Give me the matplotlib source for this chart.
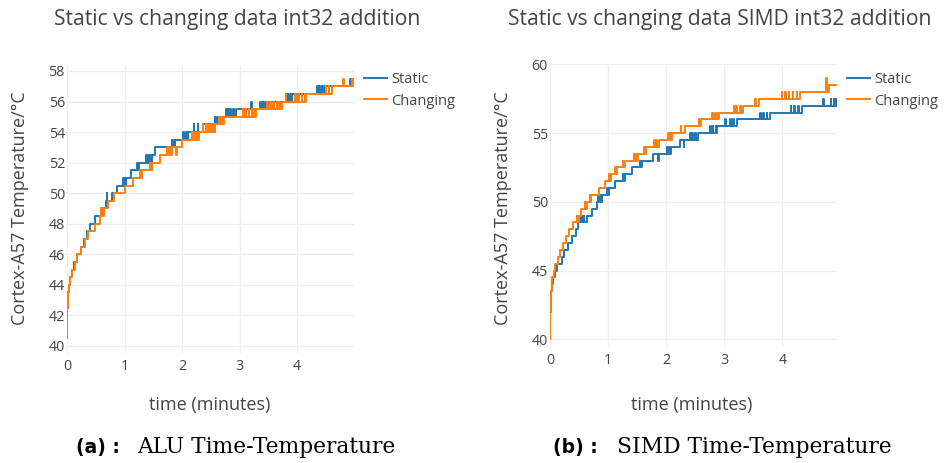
import matplotlib
matplotlib.use("Agg")
import matplotlib.pyplot as plt

# ---------------- data (time in minutes, temperature in degC) ----------------
alu_static_time = [0, 0.003, 0.006, 0.01, 0.02, 0.035, 0.055, 0.085, 0.13, 0.18,
                   0.24, 0.29, 0.34, 0.405, 0.49, 0.59, 0.68, 0.69, 0.70, 0.78,
                   0.87, 0.98, 0.99, 1.0, 1.02, 1.03, 1.12, 1.22, 1.23, 1.25,
                   1.38, 1.39, 1.42, 1.43, 1.46, 1.47, 1.48, 1.53, 1.82, 1.83,
                   1.86, 1.87, 1.88, 2.02, 2.03, 2.07, 2.08, 2.10, 2.20, 2.21,
                   2.27, 2.28, 2.36, 2.57, 2.58, 2.61, 2.62, 2.65, 2.66, 2.68,
                   2.77, 2.78, 2.80, 2.81, 2.84, 2.85, 2.89, 2.90, 2.93, 3.20,
                   3.21, 3.36, 3.37, 3.40, 3.41, 3.45, 3.46, 3.49, 3.84, 3.85,
                   3.88, 3.89, 3.92, 4.35, 4.36, 4.39, 4.40, 4.43, 4.44, 4.47,
                   4.48, 4.50, 4.92, 4.93, 4.95, 4.96, 4.98, 4.99]
alu_static_temp = [40.5, 41.5, 42.5, 43, 43.5, 44, 44.5, 45, 45.5, 46,
                   46.5, 47, 47.5, 48, 48.5, 49, 49.5, 50, 49.5, 50,
                   50.5, 51, 50.5, 51, 50.5, 51, 51.5, 52, 51.5, 52,
                   52.5, 52, 52.5, 52, 52.5, 52, 52.5, 53, 53.5, 53,
                   53.5, 53, 53.5, 54, 53.5, 54, 53.5, 54, 54.5, 54,
                   54.5, 54, 54.5, 55, 54.5, 55, 54.5, 55, 54.5, 55,
                   55.5, 55, 55.5, 55, 55.5, 55, 55.5, 55, 55.5, 56,
                   55.5, 56, 55.5, 56, 55.5, 56, 55.5, 56, 56.5, 56,
                   56.5, 56, 56.5, 57, 56.5, 57, 56.5, 57, 56.5, 57,
                   56.5, 57, 57.5, 57, 57.5, 57, 57.5, 57.5]

alu_changing_time = [0, 0.003, 0.006, 0.012, 0.022, 0.04, 0.06, 0.095, 0.14, 0.17,
                     0.25, 0.31, 0.37, 0.48, 0.57, 0.59, 0.60, 0.62, 0.63, 0.64,
                     0.72, 0.82, 1.0, 1.15, 1.27, 1.28, 1.30, 1.45, 1.46, 1.48,
                     1.62, 1.74, 1.75, 1.78, 1.79, 1.83, 1.90, 1.91, 2.0, 2.17,
                     2.18, 2.21, 2.22, 2.26, 2.27, 2.29, 2.36, 2.37, 2.41, 2.42,
                     2.46, 2.47, 2.51, 2.52, 2.56, 2.57, 2.58, 2.65, 2.66, 2.69,
                     2.70, 2.73, 3.06, 3.07, 3.11, 3.12, 3.16, 3.17, 3.21, 3.22,
                     3.26, 3.27, 3.28, 3.48, 3.49, 3.53, 3.54, 3.59, 3.60, 3.65,
                     3.66, 3.70, 3.71, 3.73, 3.80, 3.81, 3.97, 3.98, 4.02, 4.03,
                     4.08, 4.09, 4.13, 4.14, 4.15, 4.50, 4.51, 4.55, 4.56, 4.60,
                     4.80, 4.81, 4.95, 4.96, 4.98, 4.99]
alu_changing_temp = [40.5, 41.5, 42.5, 43, 43.5, 44, 44.5, 45, 45.5, 46,
                     46.5, 47, 47.5, 48, 48.5, 49, 48.5, 49, 48.5, 49,
                     49.5, 50, 50.5, 51, 51.5, 51, 51.5, 52, 51.5, 52,
                     52.5, 53, 52.5, 53, 52.5, 53, 52.5, 53, 53.5, 54,
                     53.5, 54, 53.5, 54, 53.5, 54, 54.5, 54, 54.5, 54,
                     54.5, 54, 54.5, 54, 54.5, 54, 54.5, 55, 54.5, 55,
                     54.5, 55, 55.5, 55, 55.5, 55, 55.5, 55, 55.5, 55,
                     55.5, 55, 55.5, 56, 55.5, 56, 55.5, 56, 55.5, 56,
                     55.5, 56, 55.5, 56, 56.5, 56, 56.5, 56, 56.5, 56,
                     56.5, 56, 56.5, 56, 56.5, 57, 56.5, 57, 56.5, 57,
                     57.5, 57, 57.5, 57, 57.5, 57.5]

simd_static_time = [0, 0.003, 0.006, 0.01, 0.02, 0.03, 0.05, 0.08, 0.126, 0.20,
                    0.247, 0.316, 0.374, 0.443, 0.489, 0.51, 0.52, 0.55, 0.56, 0.58,
                    0.59, 0.632, 0.718, 0.805, 0.82, 0.83, 0.86, 0.87, 0.89, 0.98,
                    0.99, 1.01, 1.12, 1.26, 1.27, 1.29, 1.41, 1.55, 1.56, 1.59,
                    1.78, 1.86, 1.87, 2.01, 2.02, 2.05, 2.06, 2.09, 2.24, 2.30,
                    2.31, 2.41, 2.42, 2.45, 2.46, 2.50, 2.51, 2.55, 2.76, 2.77,
                    2.80, 2.81, 2.85, 2.86, 2.88, 3.02, 3.03, 3.10, 3.11, 3.15,
                    3.16, 3.22, 3.62, 3.63, 3.67, 3.68, 3.73, 3.74, 3.79, 4.14,
                    4.15, 4.20, 4.21, 4.27, 4.28, 4.34, 4.70, 4.71, 4.83, 4.84,
                    4.88, 4.89, 4.92, 4.93, 4.94]
simd_static_temp = [40, 41, 42, 43, 43.5, 44, 44.5, 45, 45.5, 46,
                    46.5, 47, 47.5, 48, 48.5, 49, 48.5, 49, 48.5, 49,
                    48.5, 49, 49.5, 50, 50.5, 50, 50.5, 50, 50.5, 51,
                    50.5, 51, 51.5, 52, 51.5, 52, 52.5, 53, 52.5, 53,
                    53.5, 53, 53.5, 54, 53.5, 54, 53.5, 54, 54.5, 54,
                    54.5, 55, 54.5, 55, 54.5, 55, 54.5, 55, 55.5, 55,
                    55.5, 55, 55.5, 55, 55.5, 56, 55.5, 56, 55.5, 56,
                    55.5, 56, 56.5, 56, 56.5, 56, 56.5, 56, 56.5, 57,
                    56.5, 57, 56.5, 57, 56.5, 57, 57.5, 57, 57.5, 57,
                    57.5, 57, 57.5, 57, 57]

simd_changing_time = [0, 0.003, 0.006, 0.01, 0.018, 0.028, 0.04, 0.065, 0.09, 0.13,
                      0.17, 0.22, 0.27, 0.33, 0.40, 0.46, 0.47, 0.50, 0.53, 0.60,
                      0.61, 0.63, 0.68, 0.69, 0.71, 0.85, 0.95, 1.02, 1.03, 1.05,
                      1.12, 1.13, 1.16, 1.25, 1.26, 1.29, 1.44, 1.45, 1.48, 1.49,
                      1.52, 1.62, 1.63, 1.66, 1.79, 1.80, 1.83, 1.84, 1.87, 2.03,
                      2.04, 2.07, 2.08, 2.10, 2.25, 2.26, 2.32, 2.56, 2.57, 2.60,
                      2.79, 2.80, 2.84, 2.85, 2.89, 2.90, 2.91, 3.16, 3.17, 3.21,
                      3.22, 3.27, 3.28, 3.33, 3.53, 3.54, 3.59, 3.99, 4.00, 4.05,
                      4.06, 4.11, 4.12, 4.18, 4.19, 4.25, 4.26, 4.31, 4.75, 4.76,
                      4.79, 4.80, 4.94]
simd_changing_temp = [40, 41, 42, 43, 43.5, 44, 44.5, 45, 45.5, 46,
                      46.5, 47, 47.5, 48, 48.5, 49, 48.5, 49, 49.5, 50,
                      49.5, 50, 50.5, 50, 50.5, 51, 51.5, 52, 51.5, 52,
                      52.5, 52, 52.5, 53, 52.5, 53, 53.5, 53, 53.5, 53,
                      53.5, 54, 53.5, 54, 54.5, 54, 54.5, 54, 54.5, 55,
                      54.5, 55, 54.5, 55, 55.5, 55, 55.5, 56, 55.5, 56,
                      56.5, 56, 56.5, 56, 56.5, 56, 56.5, 57, 56.5, 57,
                      56.5, 57, 56.5, 57, 57.5, 57, 57.5, 58, 57.5, 58,
                      57.5, 58, 57.5, 58, 57.5, 58, 57.5, 58, 59, 58.5,
                      58, 58.5, 58.5]

series_labels = ["Static", "Changing"]
titles = ["Static vs changing data int32 addition", "Static vs changing data SIMD int32 addition"]
caption_tags = ["(a) :", "(b) :"]
captions = ["ALU Time-Temperature", "SIMD Time-Temperature"]
x_ticks = [0, 1, 2, 3, 4]
alu_y_ticks = [40, 42, 44, 46, 48, 50, 52, 54, 56, 58]
simd_y_ticks = [40, 45, 50, 55, 60]

# ---------------- styling ----------------
W, H = 946, 463
TXT = "#444444"
BLUE = "#1f77b4"
ORANGE = "#ff7f0e"
FONT = ["Open Sans", "DejaVu Sans"]

fig = plt.figure(figsize=(W / 100, H / 100), dpi=100)


def axes_px(x0, y0, x1, y1):
    return fig.add_axes([x0 / W, 1 - y1 / H, (x1 - x0) / W, (y1 - y0) / H])


panels = [
    dict(box=(67, 65, 354, 353), xlim=(0, 4.99), ylim=(39.54, 58.39), yt=alu_y_ticks,
         data=[(alu_static_time, alu_static_temp), (alu_changing_time, alu_changing_temp)],
         title_xy=(237, 20), ylab_x=20, xlab_x=210, leg=(364, 72), tag_x=76, cap_x=137),
    dict(box=(550, 64, 837, 347), xlim=(0, 4.94), ylim=(39.44, 60.03), yt=simd_y_ticks,
         data=[(simd_static_time, simd_static_temp), (simd_changing_time, simd_changing_temp)],
         title_xy=(720, 19), ylab_x=503, xlab_x=692, leg=(847, 72), tag_x=553, cap_x=617),
]

for i, p in enumerate(panels):
    ax = axes_px(*p["box"])
    for (t, v), col, lab in zip(p["data"], [BLUE, ORANGE], series_labels):
        ax.plot(t, v, drawstyle="steps-post", color=col, lw=1.4, label=lab)
    ax.set_xlim(*p["xlim"])
    ax.set_ylim(*p["ylim"])
    ax.set_xticks(x_ticks)
    ax.set_yticks(p["yt"])
    for s in ax.spines.values():
        s.set_visible(False)
    ax.grid(True, color="#eeeeee", lw=0.9)
    ax.set_axisbelow(True)
    ax.tick_params(length=0, labelsize=10.3, labelcolor=TXT)
    ax.tick_params(axis="y", pad=1.5)
    ax.tick_params(axis="x", pad=4)
    for lbl in ax.get_xticklabels() + ax.get_yticklabels():
        lbl.set_fontfamily(FONT)

    leg = ax.legend(loc="upper left", bbox_to_anchor=(p["leg"][0] / W, 1 - p["leg"][1] / H),
                    bbox_transform=fig.transFigure, frameon=False, borderpad=0, borderaxespad=0,
                    handlelength=1.6, handletextpad=0.28, labelspacing=0.45,
                    prop=dict(family=FONT, size=10.5))
    for txt in leg.get_texts():
        txt.set_color(TXT)

    fig.text(p["title_xy"][0] / W, 1 - p["title_xy"][1] / H, titles[i], ha="center", va="center",
             fontsize=15.2, color=TXT, family=FONT)
    fig.text(p["ylab_x"] / W, 1 - 208 / H, "Cortex-A57 Temperature/°C", rotation=90,
             ha="center", va="center", fontsize=13, color=TXT, family=FONT)
    fig.text(p["xlab_x"] / W, 1 - 405 / H, "time (minutes)", ha="center", va="center",
             fontsize=13, color=TXT, family=FONT)
    fig.text(p["tag_x"] / W, 1 - 447 / H, caption_tags[i], ha="left", va="center",
             fontsize=13.5, weight="bold", color="black", family=["DejaVu Sans"])
    fig.text(p["cap_x"] / W, 1 - 447 / H, captions[i], ha="left", va="center",
             fontsize=15.7, color="black", family=["DejaVu Serif", "Liberation Serif"])

fig.savefig("out.png", dpi=100, facecolor="white")
